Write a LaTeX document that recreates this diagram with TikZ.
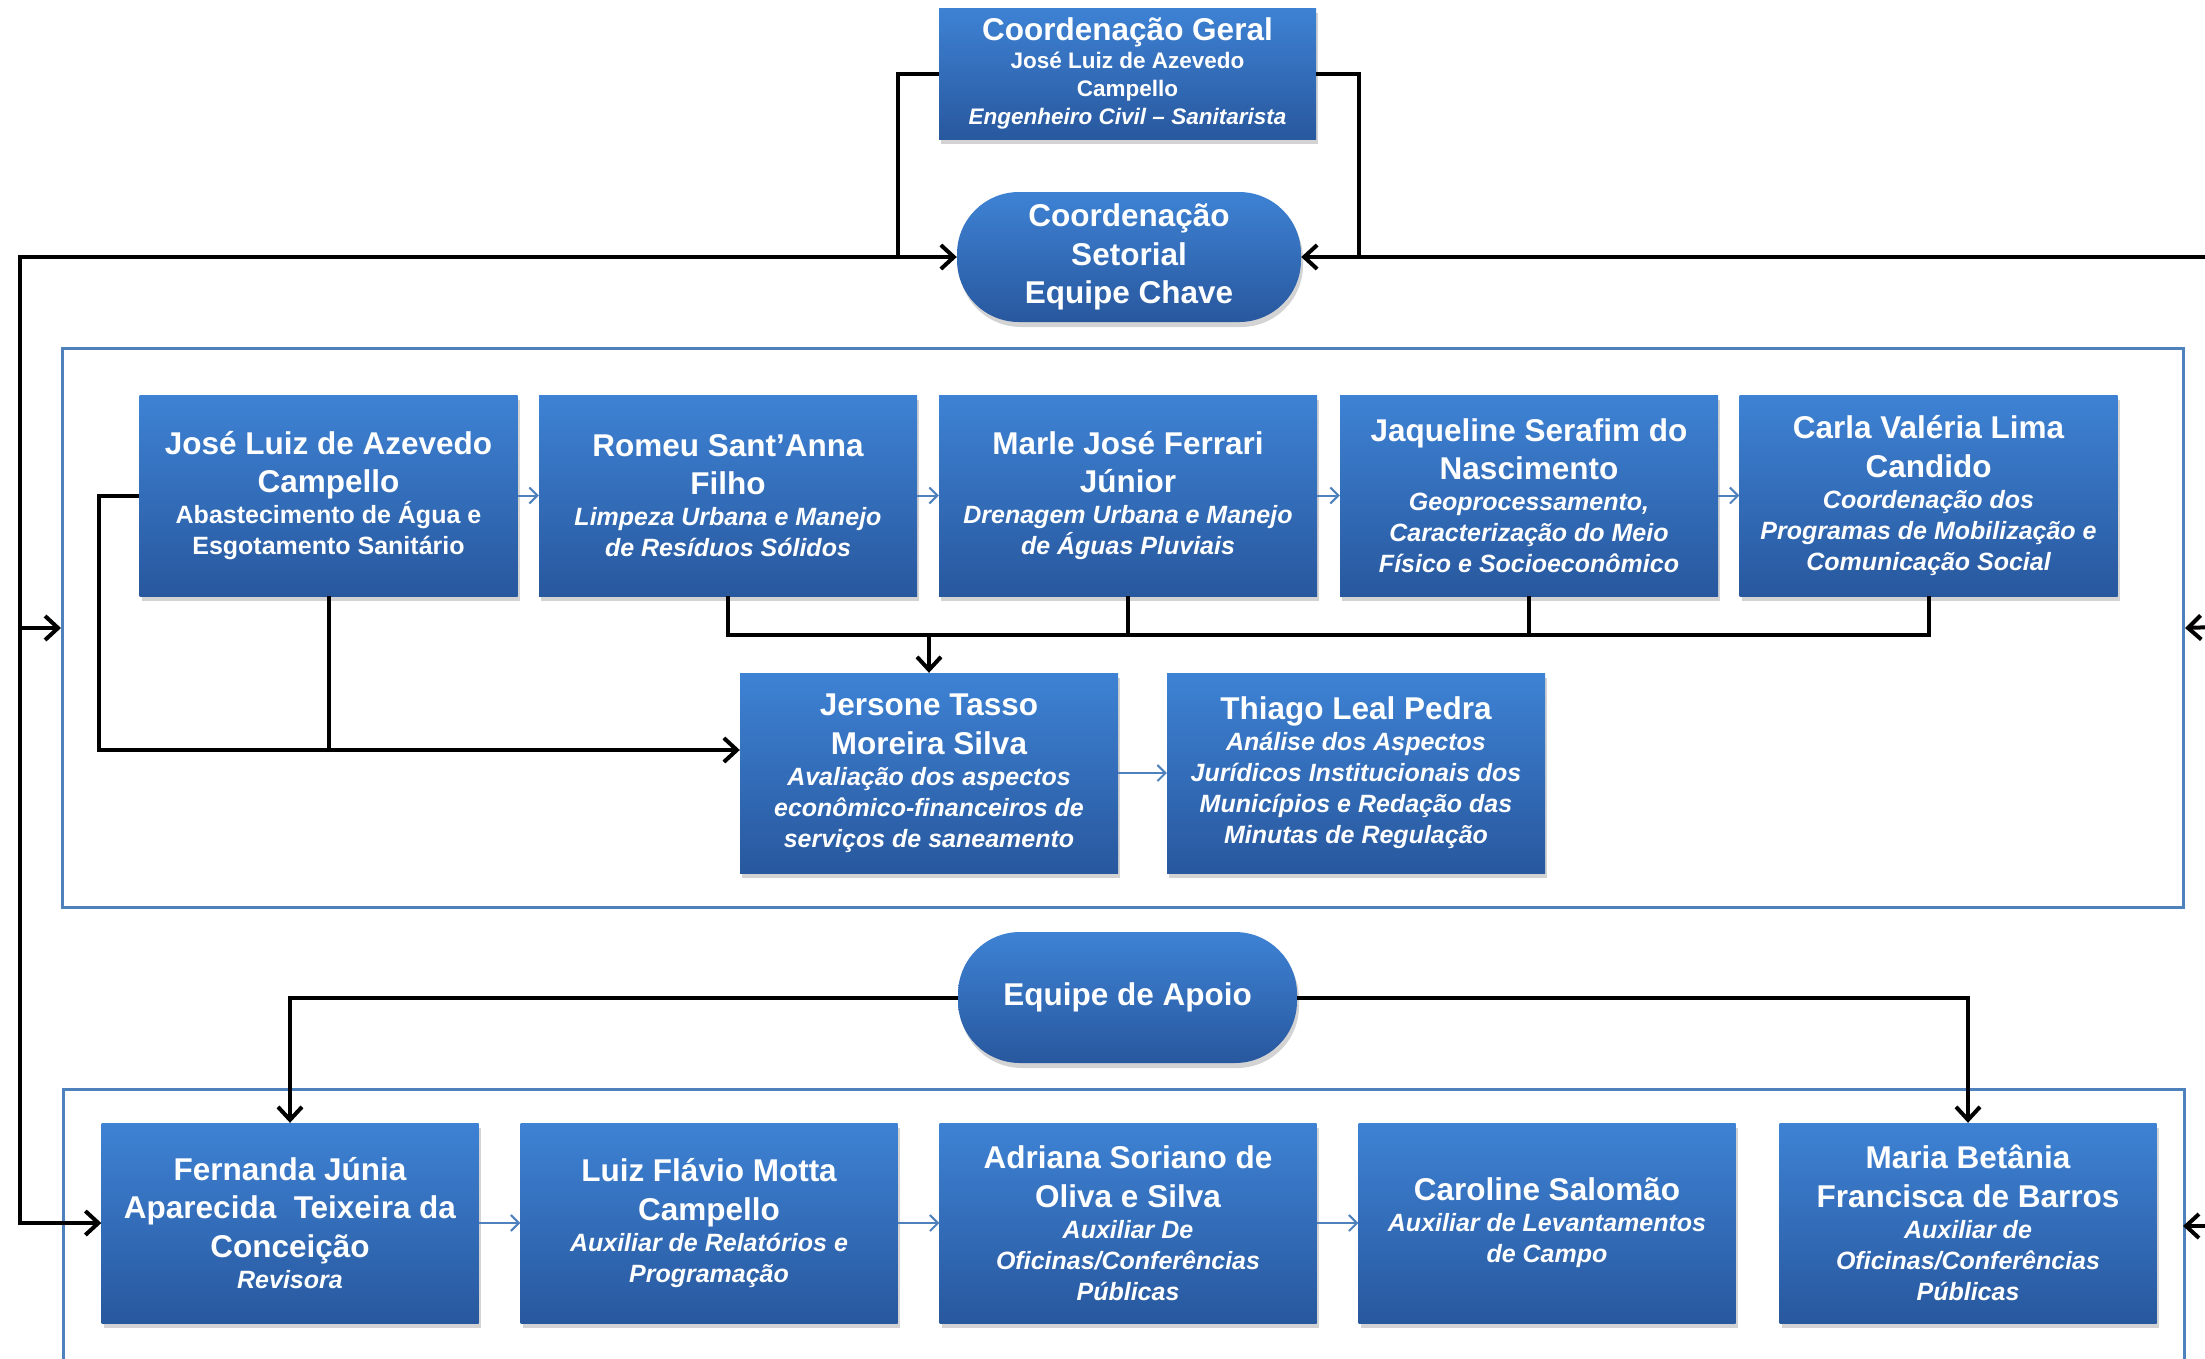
\documentclass[tikz,border=0pt]{standalone}
\usepackage{fontspec}
\setmainfont{Liberation Sans}
\usetikzlibrary{arrows.meta,shadows,calc}
\definecolor{btop}{RGB}{62,130,212}
\definecolor{bbot}{RGB}{40,88,158}
\definecolor{frame}{RGB}{79,129,189}
\newcommand\Fixsp{\spaceskip=0.2778em\xspaceskip=0.2778em\relax}
\newcommand\Ttl{\fontsize{31.5}{38.5}\selectfont\bfseries\Fixsp}
\newcommand\Subu{\fontsize{25}{31}\selectfont\bfseries\Fixsp}
\newcommand\Subi{\fontsize{25}{31}\selectfont\bfseries\itshape\Fixsp}
\newcommand\Smu{\fontsize{22.5}{28}\selectfont\bfseries\Fixsp}
\newcommand\Smi{\fontsize{22.5}{28}\selectfont\bfseries\itshape\Fixsp}
\setlength\parindent{0pt}
\setlength\parskip{0pt}
\tikzset{
 pbox/.style={rectangle, top color=btop, bottom color=bbot, draw=none, text=white,
   align=center, inner sep=0pt, minimum width=378pt, minimum height=201pt, text width=372pt,
   execute at end node={\par\vskip-9pt},
   drop shadow={shadow xshift=2pt,shadow yshift=-5pt,opacity=0.35}},
 pill/.style={pbox, rounded corners=62pt, minimum width=344pt, minimum height=130pt, text width=330pt},
 frameline/.style={draw=frame, line width=3pt, inner sep=0pt, anchor=north west},
 conn/.style={draw=black, line width=4pt},
 connarrow/.style={conn, -{Straight Barb[length=13pt,width=24pt]}},
 flow/.style={draw=frame, line width=2pt, -{Straight Barb[length=8pt,width=16pt]}},
}
\begin{document}
\begin{tikzpicture}[x=1pt,y=-1pt]
\useasboundingbox (0,0) rectangle (2205,1358);
% containers
\node[frameline, minimum width=2121pt, minimum height=559pt] (c1) at (61,347) {};
\node[frameline, minimum width=2121pt, minimum height=320pt] (c2) at (62,1088) {};
% top
\node[pbox, minimum width=377pt, minimum height=131pt] (cg) at (1127.5,73.5)
 {{\Ttl Coordenação Geral\par}{\Smu José Luiz de Azevedo\\Campello\par}{\Smi Engenheiro Civil – Sanitarista\par}};
\node[pill] (cs) at (1129,257) {{\Ttl Coordenação\\Setorial\\Equipe Chave\par}};
% row 1
\node[pbox] (jose) at (328.5,495.5) {{\Ttl José Luiz de Azevedo\\Campello\par}{\Subu Abastecimento de Água e\\Esgotamento Sanitário\par}};
\node[pbox] (romeu) at (728,495.5) {{\Ttl Romeu Sant’Anna\\Filho\par}{\Subi Limpeza Urbana e Manejo\\de Resíduos Sólidos\par}};
\node[pbox] (marle) at (1128,495.5) {{\Ttl Marle José Ferrari\\Júnior\par}{\Subi Drenagem Urbana e Manejo\\de Águas Pluviais\par}};
\node[pbox] (jaq) at (1529,495.5) {{\Ttl Jaqueline Serafim do\\Nascimento\par}{\Subi Geoprocessamento,\\Caracterização do Meio\\Físico e Socioeconômico\par}};
\node[pbox] (carla) at (1928.5,495.5) {{\Ttl Carla Valéria Lima\\Candido\par}{\Subi Coordenação dos\\Programas de Mobilização e\\Comunicação Social\par}};
% row 2
\node[pbox, minimum height=200pt] (jersone) at (929,773) {{\Ttl Jersone Tasso\\Moreira Silva\par}{\Subi Avaliação dos aspectos\\econômico-financeiros de\\serviços de saneamento\par}};
\node[pbox, minimum height=200pt] (thiago) at (1356,773) {{\Ttl Thiago Leal Pedra\par}{\Subi Análise dos Aspectos\\Jurídicos Institucionais dos\\Municípios e Redação das\\Minutas de Regulação\par}};
% apoio
\node[pill, minimum width=339pt, minimum height=131pt] (ea) at (1127.5,997.5) {{\Ttl Equipe de Apoio\par}};
% row 3
\node[pbox, minimum width=377pt, minimum height=200pt] (fernanda) at (290,1223) {{\Ttl Fernanda Júnia\\Aparecida \ Teixeira da\\Conceição\par}{\Subi Revisora\par}};
\node[pbox, minimum width=377pt, minimum height=200pt] (luiz) at (709,1223) {{\Ttl Luiz Flávio Motta\\Campello\par}{\Subi Auxiliar de Relatórios e\\Programação\par}};
\node[pbox, minimum width=377pt, minimum height=200pt] (adriana) at (1128,1223) {{\Ttl Adriana Soriano de\\Oliva e Silva\par}{\Subi Auxiliar De\\Oficinas/Conferências\\Públicas\par}};
\node[pbox, minimum width=377pt, minimum height=200pt] (caroline) at (1547,1223) {{\Ttl Caroline Salomão\par}{\Subi Auxiliar de Levantamentos\\de Campo\par}};
\node[pbox, minimum width=377pt, minimum height=200pt] (maria) at (1968,1223) {{\Ttl Maria Betânia\\Francisca de Barros\par}{\Subi Auxiliar de\\Oficinas/Conferências\\Públicas\par}};
% coordinates
\coordinate (L1) at (898,257);
\coordinate (R1) at (1359,257);
\coordinate (farL) at (20,257);
\coordinate (farR) at (2215,257);
\coordinate (rA) at (2215,627);
\coordinate (rB) at (2215,1226);
\coordinate (c2R) at (2183,1226);
\coordinate (jL) at (99,750);
\coordinate (bus) at (0,635);
% connectors
\draw[connarrow] (cg.west) -| (L1) -- (cs.west);
\draw[connarrow] (cg.east) -| (R1) -- (cs.east);
\draw[connarrow] (L1) -- (farL) |- (c1.west);
\draw[connarrow] (farL) |- (fernanda.west);
\draw[conn] (farR) -- (R1);
\draw[connarrow] (rA) -- (c1.east);
\draw[connarrow] (rB) -- (c2R);
\draw[connarrow] (jose.west) -| (jL) -- (jersone.west |- jL);
\draw[conn] (jose.south) -- (jose.south |- jL);
\draw[conn] (romeu.south) -- (romeu.south |- bus) -- (carla.south |- bus) -- (carla.south);
\draw[conn] (marle.south) -- (marle.south |- bus);
\draw[conn] (jaq.south) -- (jaq.south |- bus);
\draw[connarrow] (jersone.north |- bus) -- (jersone.north);
\draw[connarrow] (ea.west) -| (fernanda.north);
\draw[connarrow] (ea.east) -| (maria.north);
% flow arrows
\draw[flow] (jose) -- (romeu);
\draw[flow] (romeu) -- (marle);
\draw[flow] (marle) -- (jaq);
\draw[flow] (jaq) -- (carla);
\draw[flow] (jersone) -- (thiago);
\draw[flow] (fernanda) -- (luiz);
\draw[flow] (luiz) -- (adriana);
\draw[flow] (adriana) -- (caroline);
\end{tikzpicture}
\end{document}
